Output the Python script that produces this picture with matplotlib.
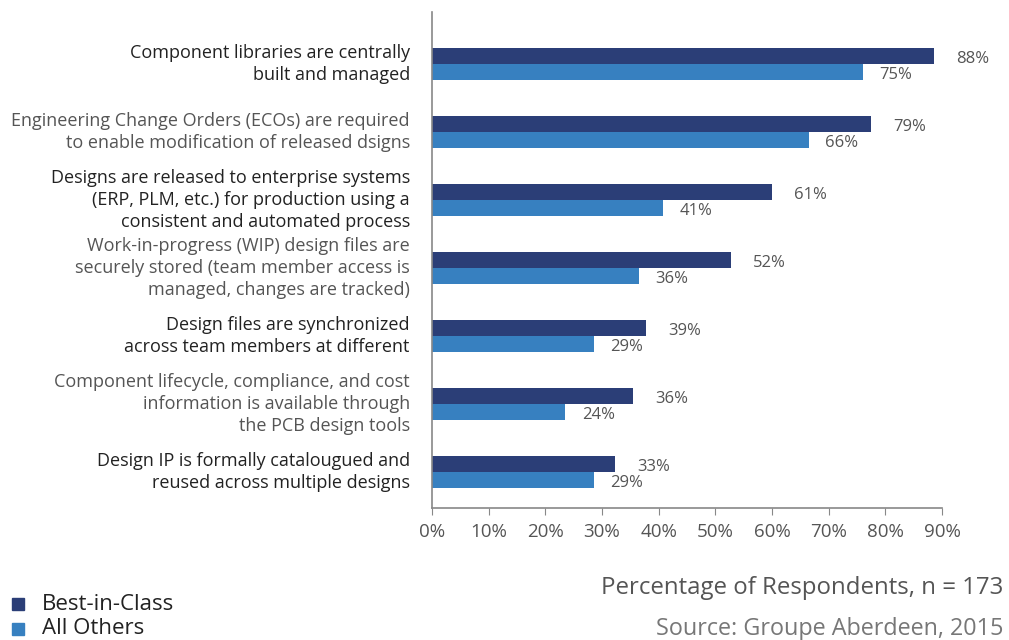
import matplotlib
matplotlib.use("Agg")
import matplotlib.pyplot as plt
from matplotlib.patches import Rectangle
import numpy as np

plt.rcParams['font.family'] = ['Open Sans', 'DejaVu Sans']

categories = [
    "Component libraries are centrally\nbuilt and managed",
    "Engineering Change Orders (ECOs) are required\nto enable modification of released dsigns",
    "Designs are released to enterprise systems\n(ERP, PLM, etc.) for production using a\nconsistent and automated process",
    "Work-in-progress (WIP) design files are\nsecurely stored (team member access is\nmanaged, changes are tracked)",
    "Design files are synchronized\nacross team members at different",
    "Component lifecycle, compliance, and cost\ninformation is available through\nthe PCB design tools",
    "Design IP is formally catalougued and\nreused across multiple designs",
]
best_in_class = [88.6, 77.4, 60.0, 52.7, 37.7, 35.5, 32.3]
all_others = [76.0, 66.5, 40.7, 36.5, 28.5, 23.5, 28.5]
best_labels = ["88%", "79%", "61%", "52%", "39%", "36%", "33%"]
other_labels = ["75%", "66%", "41%", "36%", "29%", "24%", "29%"]
label_colors = ["#222222", "#555555", "#222222", "#555555", "#222222", "#555555", "#222222"]
xticks = [0, 10, 20, 30, 40, 50, 60, 70, 80, 90]
series_names = ["Best-in-Class", "All Others"]

dark = "#2b3e77"
light = "#3780c0"

fig = plt.figure(figsize=(10.09, 6.40), dpi=100)
ax = fig.add_axes([432/1009, 1-508/640, (942-432)/1009, (508-12)/640])

y = np.arange(len(categories))
h = 0.235
ax.barh(y - h/2, best_in_class, height=h, color=dark)
ax.barh(y + h/2, all_others, height=h, color=light)

for i in range(len(categories)):
    ax.annotate(best_labels[i], (best_in_class[i], y[i] - h/2), xytext=(16, -2),
                textcoords='offset points', va='center', ha='left', fontsize=12, color='#555555')
    ax.annotate(other_labels[i], (all_others[i], y[i] + h/2), xytext=(12, -2),
                textcoords='offset points', va='center', ha='left', fontsize=12, color='#555555')

ax.set_xlim(0, 90)
ax.set_ylim(6.53, -0.765)
ax.set_xticks(xticks)
ax.set_xticklabels([f"{t}%" for t in xticks])
ax.set_yticks(y)
ax.set_yticklabels(categories, fontsize=13, linespacing=1.27)
for lbl, c in zip(ax.get_yticklabels(), label_colors):
    lbl.set_color(c)
    lbl.set_multialignment('right')
    lbl.set_verticalalignment('center')
ax.tick_params(axis='y', length=0, pad=16)
ax.tick_params(axis='x', length=5, color='#888888', labelsize=13.5, labelcolor='#555555', pad=6)
for s in ['top', 'right']:
    ax.spines[s].set_visible(False)
for s in ['left', 'bottom']:
    ax.spines[s].set_color('#888888')
    ax.spines[s].set_linewidth(1.2)

# legend
for name, col, yy in zip(series_names, [dark, light], [604, 629]):
    fig.patches.append(Rectangle((12/1009, 1-(yy+6)/640), 12/1009, 12/640,
                                 transform=fig.transFigure, color=col))
    fig.text(42/1009, 1-yy/640, name, fontsize=16, color='#222222', va='center', ha='left')

fig.text(1003/1009, 1-588/640, "Percentage of Respondents, n = 173", fontsize=17.3,
         color='#555555', ha='right', va='center')
fig.text(1003/1009, 1-629/640, "Source: Groupe Aberdeen, 2015", fontsize=16.8,
         color='#777777', ha='right', va='center')

fig.savefig("out.png", dpi=100)
